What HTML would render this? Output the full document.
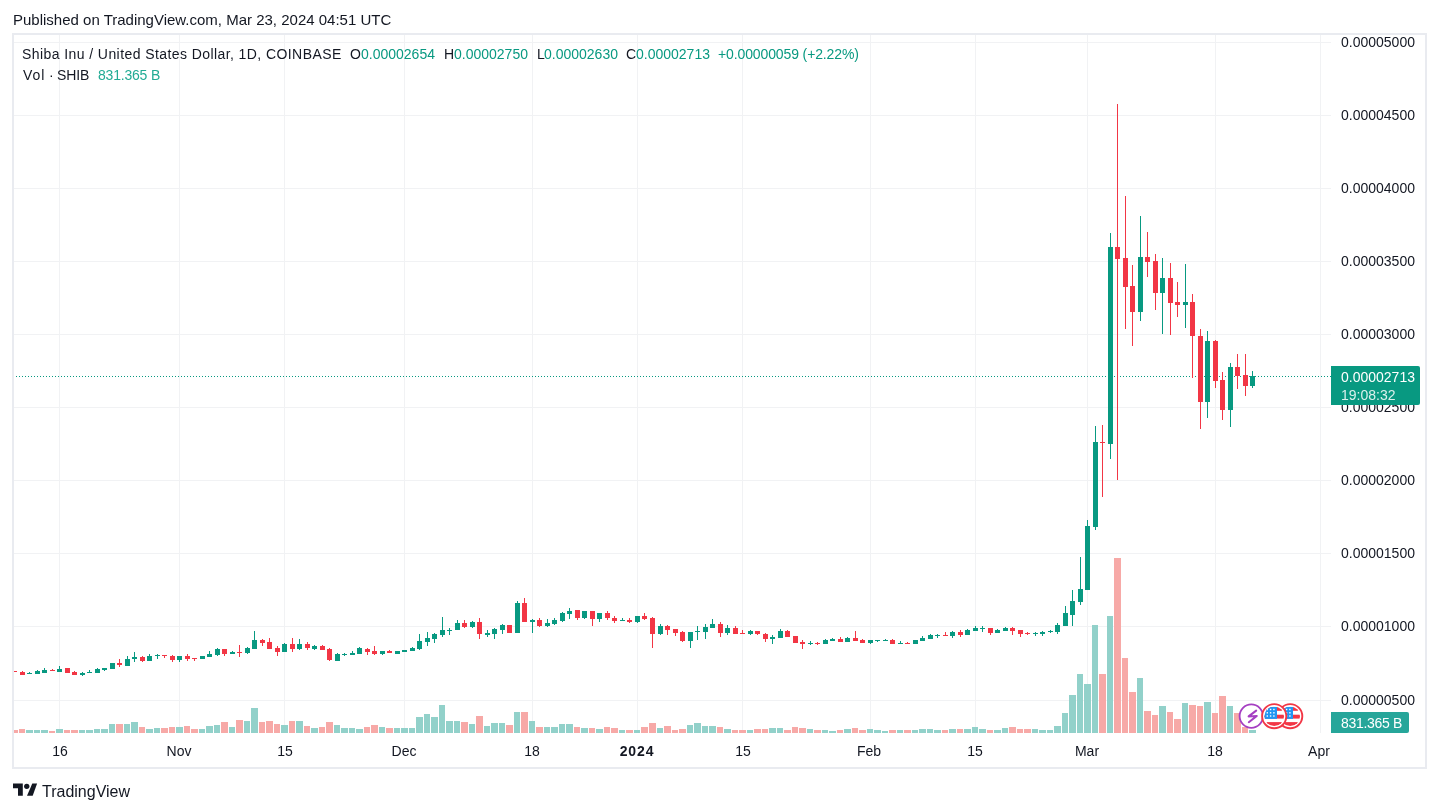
<!DOCTYPE html>
<html><head><meta charset="utf-8">
<style>
html,body{margin:0;padding:0;background:#fff;}
body{width:1439px;height:812px;position:relative;overflow:hidden;font-family:"Liberation Sans",sans-serif;color:#131722;}
.abs{position:absolute;white-space:nowrap;will-change:transform;}
#frame{position:absolute;left:12px;top:33px;width:1411px;height:732px;border:2px solid #e9ebf0;}
svg{position:absolute;left:0;top:0;}
.pl{position:absolute;will-change:transform;left:1341px;font-size:14px;line-height:17px;color:#131722;white-space:nowrap;}
.tl{position:absolute;will-change:transform;top:743px;width:80px;text-align:center;font-size:14px;line-height:17px;color:#131722;}
.tl.b{font-weight:bold;letter-spacing:0.9px;}
.pub{left:13px;top:11px;font-size:15px;line-height:18px;}
.leg{font-size:14px;line-height:17px;}
.gv{color:#089981;}
</style></head><body>
<div class="abs pub">Published on TradingView.com, Mar 23, 2024 04:51 UTC</div>
<div id="frame"></div>
<svg width="1439" height="812" shape-rendering="crispEdges">
<rect x="14" y="42" width="1317" height="1" fill="#f1f2f4"/>
<rect x="14" y="115" width="1317" height="1" fill="#f1f2f4"/>
<rect x="14" y="188" width="1317" height="1" fill="#f1f2f4"/>
<rect x="14" y="261" width="1317" height="1" fill="#f1f2f4"/>
<rect x="14" y="334" width="1317" height="1" fill="#f1f2f4"/>
<rect x="14" y="407" width="1317" height="1" fill="#f1f2f4"/>
<rect x="14" y="480" width="1317" height="1" fill="#f1f2f4"/>
<rect x="14" y="553" width="1317" height="1" fill="#f1f2f4"/>
<rect x="14" y="626" width="1317" height="1" fill="#f1f2f4"/>
<rect x="14" y="700" width="1317" height="1" fill="#f1f2f4"/>
<rect x="59" y="35" width="1" height="698" fill="#f1f2f4"/>
<rect x="179" y="35" width="1" height="698" fill="#f1f2f4"/>
<rect x="284" y="35" width="1" height="698" fill="#f1f2f4"/>
<rect x="404" y="35" width="1" height="698" fill="#f1f2f4"/>
<rect x="532" y="35" width="1" height="698" fill="#f1f2f4"/>
<rect x="637" y="35" width="1" height="698" fill="#f1f2f4"/>
<rect x="742" y="35" width="1" height="698" fill="#f1f2f4"/>
<rect x="870" y="35" width="1" height="698" fill="#f1f2f4"/>
<rect x="975" y="35" width="1" height="698" fill="#f1f2f4"/>
<rect x="1087" y="35" width="1" height="698" fill="#f1f2f4"/>
<rect x="1215" y="35" width="1" height="698" fill="#f1f2f4"/>
<rect x="1320" y="35" width="1" height="698" fill="#f1f2f4"/>
<rect x="14" y="730" width="4" height="3" fill="#f7a9a7"/>
<rect x="19" y="729" width="6" height="4" fill="#f7a9a7"/>
<rect x="26" y="730" width="7" height="3" fill="#92d1ca"/>
<rect x="34" y="730" width="6" height="3" fill="#92d1ca"/>
<rect x="41" y="730" width="7" height="3" fill="#92d1ca"/>
<rect x="49" y="731" width="6" height="2" fill="#f7a9a7"/>
<rect x="56" y="729" width="7" height="4" fill="#92d1ca"/>
<rect x="64" y="730" width="6" height="3" fill="#f7a9a7"/>
<rect x="71" y="730" width="7" height="3" fill="#f7a9a7"/>
<rect x="79" y="730" width="6" height="3" fill="#92d1ca"/>
<rect x="86" y="730" width="7" height="3" fill="#92d1ca"/>
<rect x="94" y="729" width="6" height="4" fill="#92d1ca"/>
<rect x="101" y="729" width="7" height="4" fill="#92d1ca"/>
<rect x="109" y="724" width="6" height="9" fill="#92d1ca"/>
<rect x="116" y="724" width="7" height="9" fill="#f7a9a7"/>
<rect x="124" y="724" width="6" height="9" fill="#92d1ca"/>
<rect x="131" y="722" width="7" height="11" fill="#92d1ca"/>
<rect x="139" y="727" width="6" height="6" fill="#f7a9a7"/>
<rect x="146" y="729" width="7" height="4" fill="#92d1ca"/>
<rect x="154" y="728" width="6" height="5" fill="#92d1ca"/>
<rect x="161" y="728" width="7" height="5" fill="#f7a9a7"/>
<rect x="169" y="727" width="6" height="6" fill="#f7a9a7"/>
<rect x="176" y="727" width="7" height="6" fill="#92d1ca"/>
<rect x="184" y="726" width="6" height="7" fill="#f7a9a7"/>
<rect x="191" y="729" width="7" height="4" fill="#f7a9a7"/>
<rect x="199" y="729" width="6" height="4" fill="#92d1ca"/>
<rect x="206" y="726" width="7" height="7" fill="#92d1ca"/>
<rect x="214" y="725" width="6" height="8" fill="#92d1ca"/>
<rect x="221" y="722" width="7" height="11" fill="#f7a9a7"/>
<rect x="229" y="727" width="6" height="6" fill="#92d1ca"/>
<rect x="236" y="720" width="7" height="13" fill="#f7a9a7"/>
<rect x="244" y="721" width="6" height="12" fill="#92d1ca"/>
<rect x="251" y="708" width="7" height="25" fill="#92d1ca"/>
<rect x="259" y="722" width="6" height="11" fill="#f7a9a7"/>
<rect x="266" y="721" width="7" height="12" fill="#f7a9a7"/>
<rect x="274" y="724" width="6" height="9" fill="#f7a9a7"/>
<rect x="281" y="725" width="7" height="8" fill="#92d1ca"/>
<rect x="289" y="721" width="6" height="12" fill="#f7a9a7"/>
<rect x="296" y="721" width="7" height="12" fill="#92d1ca"/>
<rect x="304" y="726" width="6" height="7" fill="#f7a9a7"/>
<rect x="311" y="728" width="7" height="5" fill="#92d1ca"/>
<rect x="319" y="727" width="6" height="6" fill="#f7a9a7"/>
<rect x="326" y="722" width="7" height="11" fill="#f7a9a7"/>
<rect x="334" y="725" width="6" height="8" fill="#92d1ca"/>
<rect x="341" y="728" width="7" height="5" fill="#92d1ca"/>
<rect x="349" y="728" width="6" height="5" fill="#92d1ca"/>
<rect x="356" y="729" width="7" height="4" fill="#92d1ca"/>
<rect x="364" y="727" width="6" height="6" fill="#f7a9a7"/>
<rect x="371" y="725" width="7" height="8" fill="#f7a9a7"/>
<rect x="379" y="727" width="6" height="6" fill="#92d1ca"/>
<rect x="386" y="728" width="7" height="5" fill="#f7a9a7"/>
<rect x="394" y="728" width="6" height="5" fill="#92d1ca"/>
<rect x="401" y="728" width="7" height="5" fill="#92d1ca"/>
<rect x="409" y="728" width="6" height="5" fill="#92d1ca"/>
<rect x="416" y="717" width="7" height="16" fill="#92d1ca"/>
<rect x="424" y="714" width="6" height="19" fill="#92d1ca"/>
<rect x="431" y="717" width="7" height="16" fill="#92d1ca"/>
<rect x="439" y="705" width="6" height="28" fill="#92d1ca"/>
<rect x="446" y="721" width="7" height="12" fill="#92d1ca"/>
<rect x="454" y="721" width="6" height="12" fill="#92d1ca"/>
<rect x="461" y="722" width="7" height="11" fill="#f7a9a7"/>
<rect x="469" y="724" width="6" height="9" fill="#92d1ca"/>
<rect x="476" y="716" width="7" height="17" fill="#f7a9a7"/>
<rect x="484" y="726" width="6" height="7" fill="#92d1ca"/>
<rect x="491" y="723" width="7" height="10" fill="#92d1ca"/>
<rect x="499" y="723" width="6" height="10" fill="#92d1ca"/>
<rect x="506" y="725" width="7" height="8" fill="#f7a9a7"/>
<rect x="514" y="712" width="6" height="21" fill="#92d1ca"/>
<rect x="521" y="712" width="7" height="21" fill="#f7a9a7"/>
<rect x="529" y="721" width="6" height="12" fill="#92d1ca"/>
<rect x="536" y="727" width="7" height="6" fill="#f7a9a7"/>
<rect x="544" y="727" width="6" height="6" fill="#92d1ca"/>
<rect x="551" y="727" width="7" height="6" fill="#92d1ca"/>
<rect x="559" y="724" width="6" height="9" fill="#92d1ca"/>
<rect x="566" y="724" width="7" height="9" fill="#92d1ca"/>
<rect x="574" y="727" width="6" height="6" fill="#f7a9a7"/>
<rect x="581" y="728" width="7" height="5" fill="#92d1ca"/>
<rect x="589" y="728" width="6" height="5" fill="#f7a9a7"/>
<rect x="596" y="729" width="7" height="4" fill="#92d1ca"/>
<rect x="604" y="727" width="6" height="6" fill="#f7a9a7"/>
<rect x="611" y="728" width="7" height="5" fill="#f7a9a7"/>
<rect x="619" y="730" width="6" height="3" fill="#92d1ca"/>
<rect x="626" y="730" width="7" height="3" fill="#f7a9a7"/>
<rect x="634" y="730" width="6" height="3" fill="#92d1ca"/>
<rect x="641" y="727" width="7" height="6" fill="#f7a9a7"/>
<rect x="649" y="723" width="7" height="10" fill="#f7a9a7"/>
<rect x="657" y="728" width="6" height="5" fill="#92d1ca"/>
<rect x="664" y="726" width="7" height="7" fill="#f7a9a7"/>
<rect x="672" y="730" width="6" height="3" fill="#f7a9a7"/>
<rect x="679" y="729" width="7" height="4" fill="#f7a9a7"/>
<rect x="687" y="725" width="6" height="8" fill="#92d1ca"/>
<rect x="694" y="723" width="7" height="10" fill="#92d1ca"/>
<rect x="702" y="726" width="6" height="7" fill="#92d1ca"/>
<rect x="709" y="726" width="7" height="7" fill="#92d1ca"/>
<rect x="717" y="727" width="6" height="6" fill="#f7a9a7"/>
<rect x="724" y="729" width="7" height="4" fill="#92d1ca"/>
<rect x="732" y="730" width="6" height="3" fill="#f7a9a7"/>
<rect x="739" y="730" width="7" height="3" fill="#f7a9a7"/>
<rect x="747" y="730" width="6" height="3" fill="#92d1ca"/>
<rect x="754" y="729" width="7" height="4" fill="#f7a9a7"/>
<rect x="762" y="729" width="6" height="4" fill="#f7a9a7"/>
<rect x="769" y="728" width="7" height="5" fill="#92d1ca"/>
<rect x="777" y="728" width="6" height="5" fill="#92d1ca"/>
<rect x="784" y="730" width="7" height="3" fill="#f7a9a7"/>
<rect x="792" y="727" width="6" height="6" fill="#f7a9a7"/>
<rect x="799" y="728" width="7" height="5" fill="#f7a9a7"/>
<rect x="807" y="729" width="6" height="4" fill="#92d1ca"/>
<rect x="814" y="730" width="7" height="3" fill="#f7a9a7"/>
<rect x="822" y="730" width="6" height="3" fill="#92d1ca"/>
<rect x="829" y="731" width="7" height="2" fill="#92d1ca"/>
<rect x="837" y="730" width="6" height="3" fill="#f7a9a7"/>
<rect x="844" y="729" width="7" height="4" fill="#92d1ca"/>
<rect x="852" y="728" width="6" height="5" fill="#f7a9a7"/>
<rect x="859" y="730" width="7" height="3" fill="#f7a9a7"/>
<rect x="867" y="729" width="6" height="4" fill="#92d1ca"/>
<rect x="874" y="730" width="7" height="3" fill="#92d1ca"/>
<rect x="882" y="731" width="6" height="2" fill="#92d1ca"/>
<rect x="889" y="730" width="7" height="3" fill="#f7a9a7"/>
<rect x="897" y="730" width="6" height="3" fill="#92d1ca"/>
<rect x="904" y="730" width="7" height="3" fill="#f7a9a7"/>
<rect x="912" y="730" width="6" height="3" fill="#92d1ca"/>
<rect x="919" y="729" width="7" height="4" fill="#92d1ca"/>
<rect x="927" y="729" width="6" height="4" fill="#92d1ca"/>
<rect x="934" y="730" width="7" height="3" fill="#92d1ca"/>
<rect x="942" y="730" width="6" height="3" fill="#f7a9a7"/>
<rect x="949" y="729" width="7" height="4" fill="#92d1ca"/>
<rect x="957" y="729" width="6" height="4" fill="#f7a9a7"/>
<rect x="964" y="729" width="7" height="4" fill="#92d1ca"/>
<rect x="972" y="727" width="6" height="6" fill="#92d1ca"/>
<rect x="979" y="729" width="7" height="4" fill="#92d1ca"/>
<rect x="987" y="730" width="6" height="3" fill="#f7a9a7"/>
<rect x="994" y="730" width="7" height="3" fill="#92d1ca"/>
<rect x="1002" y="728" width="6" height="5" fill="#92d1ca"/>
<rect x="1009" y="727" width="7" height="6" fill="#f7a9a7"/>
<rect x="1017" y="729" width="6" height="4" fill="#f7a9a7"/>
<rect x="1024" y="729" width="7" height="4" fill="#f7a9a7"/>
<rect x="1032" y="729" width="6" height="4" fill="#92d1ca"/>
<rect x="1039" y="730" width="7" height="3" fill="#92d1ca"/>
<rect x="1047" y="730" width="6" height="3" fill="#92d1ca"/>
<rect x="1054" y="726" width="7" height="7" fill="#92d1ca"/>
<rect x="1062" y="713" width="6" height="20" fill="#92d1ca"/>
<rect x="1069" y="695" width="7" height="38" fill="#92d1ca"/>
<rect x="1077" y="674" width="6" height="59" fill="#92d1ca"/>
<rect x="1084" y="684" width="7" height="49" fill="#92d1ca"/>
<rect x="1092" y="625" width="6" height="108" fill="#92d1ca"/>
<rect x="1099" y="674" width="7" height="59" fill="#f7a9a7"/>
<rect x="1107" y="616" width="6" height="117" fill="#92d1ca"/>
<rect x="1114" y="558" width="7" height="175" fill="#f7a9a7"/>
<rect x="1122" y="658" width="6" height="75" fill="#f7a9a7"/>
<rect x="1129" y="692" width="7" height="41" fill="#f7a9a7"/>
<rect x="1137" y="678" width="6" height="55" fill="#92d1ca"/>
<rect x="1144" y="711" width="7" height="22" fill="#f7a9a7"/>
<rect x="1152" y="715" width="6" height="18" fill="#f7a9a7"/>
<rect x="1159" y="706" width="7" height="27" fill="#92d1ca"/>
<rect x="1167" y="712" width="6" height="21" fill="#f7a9a7"/>
<rect x="1174" y="719" width="7" height="14" fill="#f7a9a7"/>
<rect x="1182" y="703" width="6" height="30" fill="#92d1ca"/>
<rect x="1189" y="705" width="7" height="28" fill="#f7a9a7"/>
<rect x="1197" y="706" width="6" height="27" fill="#f7a9a7"/>
<rect x="1204" y="702" width="7" height="31" fill="#92d1ca"/>
<rect x="1212" y="713" width="6" height="20" fill="#f7a9a7"/>
<rect x="1219" y="696" width="7" height="37" fill="#f7a9a7"/>
<rect x="1227" y="706" width="6" height="27" fill="#92d1ca"/>
<rect x="1234" y="713" width="7" height="20" fill="#f7a9a7"/>
<rect x="1242" y="727" width="6" height="6" fill="#f7a9a7"/>
<rect x="1249" y="730" width="7" height="3" fill="#92d1ca"/>
<line x1="14" y1="376.5" x2="1331" y2="376.5" stroke="#089981" stroke-width="1" stroke-dasharray="1 2" stroke-dashoffset="-2"/>
<rect x="14" y="671" width="1" height="1" fill="#f23645"/>
<rect x="14" y="671" width="3" height="1" fill="#f23645"/>
<rect x="22" y="671" width="1" height="4" fill="#f23645"/>
<rect x="20" y="672" width="5" height="3" fill="#f23645"/>
<rect x="29" y="672" width="1" height="2" fill="#089981"/>
<rect x="27" y="673" width="5" height="1" fill="#089981"/>
<rect x="37" y="670" width="1" height="4" fill="#089981"/>
<rect x="35" y="671" width="5" height="3" fill="#089981"/>
<rect x="44" y="668" width="1" height="5" fill="#089981"/>
<rect x="42" y="670" width="5" height="3" fill="#089981"/>
<rect x="52" y="669" width="1" height="2" fill="#f23645"/>
<rect x="50" y="670" width="5" height="1" fill="#f23645"/>
<rect x="59" y="666" width="1" height="6" fill="#089981"/>
<rect x="57" y="669" width="5" height="3" fill="#089981"/>
<rect x="67" y="668" width="1" height="5" fill="#f23645"/>
<rect x="65" y="668" width="5" height="5" fill="#f23645"/>
<rect x="74" y="671" width="1" height="4" fill="#f23645"/>
<rect x="72" y="672" width="5" height="3" fill="#f23645"/>
<rect x="82" y="672" width="1" height="4" fill="#089981"/>
<rect x="80" y="673" width="5" height="2" fill="#089981"/>
<rect x="89" y="670" width="1" height="3" fill="#089981"/>
<rect x="87" y="672" width="5" height="1" fill="#089981"/>
<rect x="97" y="668" width="1" height="5" fill="#089981"/>
<rect x="95" y="669" width="5" height="4" fill="#089981"/>
<rect x="104" y="668" width="1" height="3" fill="#089981"/>
<rect x="102" y="668" width="5" height="2" fill="#089981"/>
<rect x="112" y="663" width="1" height="6" fill="#089981"/>
<rect x="110" y="663" width="5" height="6" fill="#089981"/>
<rect x="119" y="659" width="1" height="8" fill="#f23645"/>
<rect x="117" y="663" width="5" height="2" fill="#f23645"/>
<rect x="127" y="656" width="1" height="10" fill="#089981"/>
<rect x="125" y="659" width="5" height="7" fill="#089981"/>
<rect x="134" y="652" width="1" height="10" fill="#089981"/>
<rect x="132" y="657" width="5" height="2" fill="#089981"/>
<rect x="142" y="656" width="1" height="6" fill="#f23645"/>
<rect x="140" y="657" width="5" height="4" fill="#f23645"/>
<rect x="149" y="654" width="1" height="7" fill="#089981"/>
<rect x="147" y="656" width="5" height="5" fill="#089981"/>
<rect x="157" y="654" width="1" height="5" fill="#089981"/>
<rect x="155" y="655" width="5" height="1" fill="#089981"/>
<rect x="164" y="655" width="1" height="3" fill="#f23645"/>
<rect x="162" y="655" width="5" height="1" fill="#f23645"/>
<rect x="172" y="655" width="1" height="7" fill="#f23645"/>
<rect x="170" y="656" width="5" height="4" fill="#f23645"/>
<rect x="179" y="656" width="1" height="6" fill="#089981"/>
<rect x="177" y="656" width="5" height="4" fill="#089981"/>
<rect x="187" y="654" width="1" height="7" fill="#f23645"/>
<rect x="185" y="656" width="5" height="3" fill="#f23645"/>
<rect x="194" y="658" width="1" height="3" fill="#f23645"/>
<rect x="192" y="658" width="5" height="1" fill="#f23645"/>
<rect x="202" y="656" width="1" height="3" fill="#089981"/>
<rect x="200" y="656" width="5" height="3" fill="#089981"/>
<rect x="209" y="651" width="1" height="6" fill="#089981"/>
<rect x="207" y="654" width="5" height="3" fill="#089981"/>
<rect x="217" y="648" width="1" height="8" fill="#089981"/>
<rect x="215" y="649" width="5" height="6" fill="#089981"/>
<rect x="224" y="649" width="1" height="7" fill="#f23645"/>
<rect x="222" y="649" width="5" height="5" fill="#f23645"/>
<rect x="232" y="651" width="1" height="3" fill="#089981"/>
<rect x="230" y="652" width="5" height="2" fill="#089981"/>
<rect x="239" y="645" width="1" height="12" fill="#f23645"/>
<rect x="237" y="652" width="5" height="1" fill="#f23645"/>
<rect x="247" y="647" width="1" height="7" fill="#089981"/>
<rect x="245" y="648" width="5" height="5" fill="#089981"/>
<rect x="254" y="631" width="1" height="18" fill="#089981"/>
<rect x="252" y="640" width="5" height="9" fill="#089981"/>
<rect x="262" y="639" width="1" height="7" fill="#f23645"/>
<rect x="260" y="640" width="5" height="3" fill="#f23645"/>
<rect x="269" y="638" width="1" height="11" fill="#f23645"/>
<rect x="267" y="642" width="5" height="7" fill="#f23645"/>
<rect x="277" y="646" width="1" height="10" fill="#f23645"/>
<rect x="275" y="648" width="5" height="4" fill="#f23645"/>
<rect x="284" y="643" width="1" height="9" fill="#089981"/>
<rect x="282" y="644" width="5" height="8" fill="#089981"/>
<rect x="292" y="638" width="1" height="14" fill="#f23645"/>
<rect x="290" y="644" width="5" height="5" fill="#f23645"/>
<rect x="299" y="639" width="1" height="11" fill="#089981"/>
<rect x="297" y="644" width="5" height="5" fill="#089981"/>
<rect x="307" y="642" width="1" height="8" fill="#f23645"/>
<rect x="305" y="644" width="5" height="4" fill="#f23645"/>
<rect x="314" y="645" width="1" height="5" fill="#089981"/>
<rect x="312" y="646" width="5" height="3" fill="#089981"/>
<rect x="322" y="645" width="1" height="5" fill="#f23645"/>
<rect x="320" y="646" width="5" height="4" fill="#f23645"/>
<rect x="329" y="648" width="1" height="13" fill="#f23645"/>
<rect x="327" y="649" width="5" height="11" fill="#f23645"/>
<rect x="337" y="653" width="1" height="8" fill="#089981"/>
<rect x="335" y="654" width="5" height="7" fill="#089981"/>
<rect x="344" y="653" width="1" height="3" fill="#089981"/>
<rect x="342" y="654" width="5" height="1" fill="#089981"/>
<rect x="352" y="651" width="1" height="4" fill="#089981"/>
<rect x="350" y="653" width="5" height="2" fill="#089981"/>
<rect x="359" y="647" width="1" height="7" fill="#089981"/>
<rect x="357" y="648" width="5" height="6" fill="#089981"/>
<rect x="367" y="648" width="1" height="7" fill="#f23645"/>
<rect x="365" y="649" width="5" height="3" fill="#f23645"/>
<rect x="374" y="646" width="1" height="9" fill="#f23645"/>
<rect x="372" y="651" width="5" height="3" fill="#f23645"/>
<rect x="382" y="651" width="1" height="4" fill="#089981"/>
<rect x="380" y="651" width="5" height="3" fill="#089981"/>
<rect x="389" y="650" width="1" height="3" fill="#f23645"/>
<rect x="387" y="651" width="5" height="2" fill="#f23645"/>
<rect x="397" y="651" width="1" height="3" fill="#089981"/>
<rect x="395" y="651" width="5" height="3" fill="#089981"/>
<rect x="404" y="650" width="1" height="2" fill="#089981"/>
<rect x="402" y="650" width="5" height="2" fill="#089981"/>
<rect x="412" y="647" width="1" height="4" fill="#089981"/>
<rect x="410" y="648" width="5" height="3" fill="#089981"/>
<rect x="419" y="634" width="1" height="16" fill="#089981"/>
<rect x="417" y="641" width="5" height="8" fill="#089981"/>
<rect x="427" y="632" width="1" height="14" fill="#089981"/>
<rect x="425" y="638" width="5" height="4" fill="#089981"/>
<rect x="434" y="633" width="1" height="10" fill="#089981"/>
<rect x="432" y="634" width="5" height="5" fill="#089981"/>
<rect x="442" y="617" width="1" height="20" fill="#089981"/>
<rect x="440" y="630" width="5" height="5" fill="#089981"/>
<rect x="449" y="628" width="1" height="7" fill="#089981"/>
<rect x="447" y="630" width="5" height="1" fill="#089981"/>
<rect x="457" y="620" width="1" height="10" fill="#089981"/>
<rect x="455" y="623" width="5" height="7" fill="#089981"/>
<rect x="464" y="620" width="1" height="8" fill="#f23645"/>
<rect x="462" y="623" width="5" height="4" fill="#f23645"/>
<rect x="472" y="621" width="1" height="7" fill="#089981"/>
<rect x="470" y="622" width="5" height="5" fill="#089981"/>
<rect x="479" y="618" width="1" height="21" fill="#f23645"/>
<rect x="477" y="622" width="5" height="12" fill="#f23645"/>
<rect x="487" y="630" width="1" height="7" fill="#089981"/>
<rect x="485" y="633" width="5" height="2" fill="#089981"/>
<rect x="494" y="628" width="1" height="11" fill="#089981"/>
<rect x="492" y="629" width="5" height="5" fill="#089981"/>
<rect x="502" y="624" width="1" height="10" fill="#089981"/>
<rect x="500" y="625" width="5" height="5" fill="#089981"/>
<rect x="509" y="625" width="1" height="8" fill="#f23645"/>
<rect x="507" y="625" width="5" height="8" fill="#f23645"/>
<rect x="517" y="601" width="1" height="32" fill="#089981"/>
<rect x="515" y="603" width="5" height="30" fill="#089981"/>
<rect x="524" y="598" width="1" height="24" fill="#f23645"/>
<rect x="522" y="603" width="5" height="19" fill="#f23645"/>
<rect x="532" y="619" width="1" height="14" fill="#089981"/>
<rect x="530" y="620" width="5" height="2" fill="#089981"/>
<rect x="539" y="618" width="1" height="9" fill="#f23645"/>
<rect x="537" y="620" width="5" height="6" fill="#f23645"/>
<rect x="547" y="619" width="1" height="8" fill="#089981"/>
<rect x="545" y="623" width="5" height="3" fill="#089981"/>
<rect x="554" y="618" width="1" height="7" fill="#089981"/>
<rect x="552" y="620" width="5" height="4" fill="#089981"/>
<rect x="562" y="612" width="1" height="10" fill="#089981"/>
<rect x="560" y="613" width="5" height="8" fill="#089981"/>
<rect x="569" y="608" width="1" height="11" fill="#089981"/>
<rect x="567" y="611" width="5" height="3" fill="#089981"/>
<rect x="577" y="610" width="1" height="10" fill="#f23645"/>
<rect x="575" y="610" width="5" height="8" fill="#f23645"/>
<rect x="584" y="611" width="1" height="8" fill="#089981"/>
<rect x="582" y="611" width="5" height="7" fill="#089981"/>
<rect x="592" y="611" width="1" height="15" fill="#f23645"/>
<rect x="590" y="611" width="5" height="8" fill="#f23645"/>
<rect x="599" y="613" width="1" height="9" fill="#089981"/>
<rect x="597" y="613" width="5" height="6" fill="#089981"/>
<rect x="607" y="611" width="1" height="9" fill="#f23645"/>
<rect x="605" y="613" width="5" height="5" fill="#f23645"/>
<rect x="614" y="616" width="1" height="7" fill="#f23645"/>
<rect x="612" y="618" width="5" height="3" fill="#f23645"/>
<rect x="622" y="618" width="1" height="3" fill="#089981"/>
<rect x="620" y="620" width="5" height="1" fill="#089981"/>
<rect x="629" y="618" width="1" height="5" fill="#f23645"/>
<rect x="627" y="620" width="5" height="2" fill="#f23645"/>
<rect x="637" y="616" width="1" height="7" fill="#089981"/>
<rect x="635" y="616" width="5" height="6" fill="#089981"/>
<rect x="644" y="613" width="1" height="7" fill="#f23645"/>
<rect x="642" y="616" width="5" height="3" fill="#f23645"/>
<rect x="652" y="617" width="1" height="31" fill="#f23645"/>
<rect x="650" y="618" width="5" height="16" fill="#f23645"/>
<rect x="660" y="624" width="1" height="11" fill="#089981"/>
<rect x="658" y="626" width="5" height="8" fill="#089981"/>
<rect x="667" y="625" width="1" height="10" fill="#f23645"/>
<rect x="665" y="626" width="5" height="4" fill="#f23645"/>
<rect x="675" y="629" width="1" height="7" fill="#f23645"/>
<rect x="673" y="629" width="5" height="4" fill="#f23645"/>
<rect x="682" y="631" width="1" height="11" fill="#f23645"/>
<rect x="680" y="632" width="5" height="9" fill="#f23645"/>
<rect x="690" y="632" width="1" height="16" fill="#089981"/>
<rect x="688" y="632" width="5" height="9" fill="#089981"/>
<rect x="697" y="626" width="1" height="14" fill="#089981"/>
<rect x="695" y="631" width="5" height="1" fill="#089981"/>
<rect x="705" y="624" width="1" height="15" fill="#089981"/>
<rect x="703" y="627" width="5" height="5" fill="#089981"/>
<rect x="712" y="619" width="1" height="9" fill="#089981"/>
<rect x="710" y="624" width="5" height="4" fill="#089981"/>
<rect x="720" y="622" width="1" height="15" fill="#f23645"/>
<rect x="718" y="624" width="5" height="9" fill="#f23645"/>
<rect x="727" y="625" width="1" height="10" fill="#089981"/>
<rect x="725" y="628" width="5" height="5" fill="#089981"/>
<rect x="735" y="626" width="1" height="8" fill="#f23645"/>
<rect x="733" y="628" width="5" height="6" fill="#f23645"/>
<rect x="742" y="630" width="1" height="4" fill="#f23645"/>
<rect x="740" y="633" width="5" height="1" fill="#f23645"/>
<rect x="750" y="630" width="1" height="5" fill="#089981"/>
<rect x="748" y="631" width="5" height="3" fill="#089981"/>
<rect x="757" y="631" width="1" height="4" fill="#f23645"/>
<rect x="755" y="631" width="5" height="3" fill="#f23645"/>
<rect x="765" y="633" width="1" height="9" fill="#f23645"/>
<rect x="763" y="634" width="5" height="5" fill="#f23645"/>
<rect x="772" y="635" width="1" height="9" fill="#089981"/>
<rect x="770" y="637" width="5" height="2" fill="#089981"/>
<rect x="780" y="629" width="1" height="9" fill="#089981"/>
<rect x="778" y="631" width="5" height="7" fill="#089981"/>
<rect x="787" y="630" width="1" height="7" fill="#f23645"/>
<rect x="785" y="631" width="5" height="6" fill="#f23645"/>
<rect x="795" y="636" width="1" height="7" fill="#f23645"/>
<rect x="793" y="636" width="5" height="7" fill="#f23645"/>
<rect x="802" y="640" width="1" height="9" fill="#f23645"/>
<rect x="800" y="642" width="5" height="2" fill="#f23645"/>
<rect x="810" y="641" width="1" height="4" fill="#089981"/>
<rect x="808" y="643" width="5" height="1" fill="#089981"/>
<rect x="817" y="642" width="1" height="3" fill="#f23645"/>
<rect x="815" y="643" width="5" height="1" fill="#f23645"/>
<rect x="825" y="639" width="1" height="5" fill="#089981"/>
<rect x="823" y="640" width="5" height="4" fill="#089981"/>
<rect x="832" y="638" width="1" height="3" fill="#089981"/>
<rect x="830" y="639" width="5" height="2" fill="#089981"/>
<rect x="840" y="637" width="1" height="5" fill="#f23645"/>
<rect x="838" y="639" width="5" height="3" fill="#f23645"/>
<rect x="847" y="637" width="1" height="5" fill="#089981"/>
<rect x="845" y="638" width="5" height="4" fill="#089981"/>
<rect x="855" y="631" width="1" height="10" fill="#f23645"/>
<rect x="853" y="638" width="5" height="3" fill="#f23645"/>
<rect x="862" y="639" width="1" height="4" fill="#f23645"/>
<rect x="860" y="640" width="5" height="3" fill="#f23645"/>
<rect x="870" y="640" width="1" height="4" fill="#089981"/>
<rect x="868" y="640" width="5" height="3" fill="#089981"/>
<rect x="877" y="640" width="1" height="2" fill="#089981"/>
<rect x="875" y="640" width="5" height="1" fill="#089981"/>
<rect x="885" y="639" width="1" height="2" fill="#089981"/>
<rect x="883" y="640" width="5" height="1" fill="#089981"/>
<rect x="892" y="639" width="1" height="5" fill="#f23645"/>
<rect x="890" y="640" width="5" height="4" fill="#f23645"/>
<rect x="900" y="641" width="1" height="3" fill="#089981"/>
<rect x="898" y="643" width="5" height="1" fill="#089981"/>
<rect x="907" y="642" width="1" height="2" fill="#f23645"/>
<rect x="905" y="643" width="5" height="1" fill="#f23645"/>
<rect x="915" y="640" width="1" height="4" fill="#089981"/>
<rect x="913" y="640" width="5" height="4" fill="#089981"/>
<rect x="922" y="636" width="1" height="5" fill="#089981"/>
<rect x="920" y="638" width="5" height="3" fill="#089981"/>
<rect x="930" y="634" width="1" height="5" fill="#089981"/>
<rect x="928" y="635" width="5" height="4" fill="#089981"/>
<rect x="937" y="634" width="1" height="4" fill="#089981"/>
<rect x="935" y="635" width="5" height="1" fill="#089981"/>
<rect x="945" y="632" width="1" height="4" fill="#f23645"/>
<rect x="943" y="635" width="5" height="1" fill="#f23645"/>
<rect x="952" y="631" width="1" height="7" fill="#089981"/>
<rect x="950" y="632" width="5" height="4" fill="#089981"/>
<rect x="960" y="630" width="1" height="7" fill="#f23645"/>
<rect x="958" y="632" width="5" height="3" fill="#f23645"/>
<rect x="967" y="629" width="1" height="6" fill="#089981"/>
<rect x="965" y="630" width="5" height="5" fill="#089981"/>
<rect x="975" y="626" width="1" height="5" fill="#089981"/>
<rect x="973" y="628" width="5" height="3" fill="#089981"/>
<rect x="982" y="626" width="1" height="6" fill="#089981"/>
<rect x="980" y="628" width="5" height="1" fill="#089981"/>
<rect x="990" y="628" width="1" height="7" fill="#f23645"/>
<rect x="988" y="628" width="5" height="5" fill="#f23645"/>
<rect x="997" y="629" width="1" height="4" fill="#089981"/>
<rect x="995" y="630" width="5" height="3" fill="#089981"/>
<rect x="1005" y="627" width="1" height="4" fill="#089981"/>
<rect x="1003" y="628" width="5" height="3" fill="#089981"/>
<rect x="1012" y="627" width="1" height="8" fill="#f23645"/>
<rect x="1010" y="628" width="5" height="3" fill="#f23645"/>
<rect x="1020" y="630" width="1" height="7" fill="#f23645"/>
<rect x="1018" y="630" width="5" height="4" fill="#f23645"/>
<rect x="1027" y="632" width="1" height="3" fill="#f23645"/>
<rect x="1025" y="633" width="5" height="1" fill="#f23645"/>
<rect x="1035" y="632" width="1" height="4" fill="#089981"/>
<rect x="1033" y="633" width="5" height="1" fill="#089981"/>
<rect x="1042" y="631" width="1" height="5" fill="#089981"/>
<rect x="1040" y="632" width="5" height="2" fill="#089981"/>
<rect x="1050" y="630" width="1" height="3" fill="#089981"/>
<rect x="1048" y="631" width="5" height="1" fill="#089981"/>
<rect x="1057" y="623" width="1" height="11" fill="#089981"/>
<rect x="1055" y="625" width="5" height="7" fill="#089981"/>
<rect x="1065" y="606" width="1" height="20" fill="#089981"/>
<rect x="1063" y="613" width="5" height="13" fill="#089981"/>
<rect x="1072" y="590" width="1" height="36" fill="#089981"/>
<rect x="1070" y="601" width="5" height="14" fill="#089981"/>
<rect x="1080" y="557" width="1" height="48" fill="#089981"/>
<rect x="1078" y="589" width="5" height="13" fill="#089981"/>
<rect x="1087" y="520" width="1" height="70" fill="#089981"/>
<rect x="1085" y="526" width="5" height="64" fill="#089981"/>
<rect x="1095" y="426" width="1" height="104" fill="#089981"/>
<rect x="1093" y="442" width="5" height="85" fill="#089981"/>
<rect x="1102" y="425" width="1" height="72" fill="#f23645"/>
<rect x="1100" y="442" width="5" height="1" fill="#f23645"/>
<rect x="1110" y="233" width="1" height="226" fill="#089981"/>
<rect x="1108" y="247" width="5" height="197" fill="#089981"/>
<rect x="1117" y="104" width="1" height="376" fill="#f23645"/>
<rect x="1115" y="247" width="5" height="12" fill="#f23645"/>
<rect x="1125" y="196" width="1" height="133" fill="#f23645"/>
<rect x="1123" y="258" width="5" height="29" fill="#f23645"/>
<rect x="1132" y="265" width="1" height="81" fill="#f23645"/>
<rect x="1130" y="286" width="5" height="26" fill="#f23645"/>
<rect x="1140" y="216" width="1" height="105" fill="#089981"/>
<rect x="1138" y="257" width="5" height="55" fill="#089981"/>
<rect x="1147" y="232" width="1" height="45" fill="#f23645"/>
<rect x="1145" y="257" width="5" height="5" fill="#f23645"/>
<rect x="1155" y="254" width="1" height="56" fill="#f23645"/>
<rect x="1153" y="261" width="5" height="32" fill="#f23645"/>
<rect x="1162" y="258" width="1" height="76" fill="#089981"/>
<rect x="1160" y="278" width="5" height="15" fill="#089981"/>
<rect x="1170" y="263" width="1" height="72" fill="#f23645"/>
<rect x="1168" y="278" width="5" height="25" fill="#f23645"/>
<rect x="1177" y="282" width="1" height="35" fill="#f23645"/>
<rect x="1175" y="302" width="5" height="3" fill="#f23645"/>
<rect x="1185" y="264" width="1" height="64" fill="#089981"/>
<rect x="1183" y="302" width="5" height="3" fill="#089981"/>
<rect x="1192" y="294" width="1" height="84" fill="#f23645"/>
<rect x="1190" y="302" width="5" height="34" fill="#f23645"/>
<rect x="1200" y="329" width="1" height="100" fill="#f23645"/>
<rect x="1198" y="336" width="5" height="66" fill="#f23645"/>
<rect x="1207" y="331" width="1" height="87" fill="#089981"/>
<rect x="1205" y="341" width="5" height="61" fill="#089981"/>
<rect x="1215" y="340" width="1" height="48" fill="#f23645"/>
<rect x="1213" y="341" width="5" height="40" fill="#f23645"/>
<rect x="1222" y="372" width="1" height="48" fill="#f23645"/>
<rect x="1220" y="380" width="5" height="30" fill="#f23645"/>
<rect x="1230" y="363" width="1" height="64" fill="#089981"/>
<rect x="1228" y="367" width="5" height="43" fill="#089981"/>
<rect x="1237" y="354" width="1" height="35" fill="#f23645"/>
<rect x="1235" y="367" width="5" height="9" fill="#f23645"/>
<rect x="1245" y="354" width="1" height="42" fill="#f23645"/>
<rect x="1243" y="375" width="5" height="11" fill="#f23645"/>
<rect x="1252" y="371" width="1" height="17" fill="#089981"/>
<rect x="1250" y="376" width="5" height="10" fill="#089981"/>
</svg>
<div class="pl" style="top:34.0px">0.00005000</div>
<div class="pl" style="top:107.0px">0.00004500</div>
<div class="pl" style="top:180.0px">0.00004000</div>
<div class="pl" style="top:253.0px">0.00003500</div>
<div class="pl" style="top:326.0px">0.00003000</div>
<div class="pl" style="top:399.0px">0.00002500</div>
<div class="pl" style="top:472.0px">0.00002000</div>
<div class="pl" style="top:545.0px">0.00001500</div>
<div class="pl" style="top:618.0px">0.00001000</div>
<div class="pl" style="top:692.0px">0.00000500</div>
<div class="tl" style="left:19.6px">16</div>
<div class="tl" style="left:138.7px">Nov</div>
<div class="tl" style="left:244.8px">15</div>
<div class="tl" style="left:363.8px">Dec</div>
<div class="tl" style="left:492.4px">18</div>
<div class="tl b" style="left:596.5px">2024</div>
<div class="tl" style="left:702.6px">15</div>
<div class="tl" style="left:829.1px">Feb</div>
<div class="tl" style="left:935.2px">15</div>
<div class="tl" style="left:1046.8px">Mar</div>
<div class="tl" style="left:1175.4px">18</div>
<div class="tl" style="left:1279.4px">Apr</div>
<div class="abs leg" style="left:22px;top:46px;letter-spacing:0.42px">Shiba Inu / United States Dollar, 1D, COINBASE</div>
<div class="abs leg" style="left:350px;top:46px">O</div><div class="abs leg gv" style="left:361.3px;top:46px">0.00002654</div>
<div class="abs leg" style="left:443.8px;top:46px">H</div><div class="abs leg gv" style="left:453.5px;top:46px">0.00002750</div>
<div class="abs leg" style="left:536.5px;top:46px">L</div><div class="abs leg gv" style="left:543.9px;top:46px">0.00002630</div>
<div class="abs leg" style="left:626.2px;top:46px">C</div><div class="abs leg gv" style="left:635.6px;top:46px">0.00002713</div>
<div class="abs leg gv" style="left:717.6px;top:46px;letter-spacing:-0.12px">+0.00000059 (+2.22%)</div>
<div class="abs leg" style="left:23px;top:67px;letter-spacing:1px">Vol</div><div class="abs leg" style="left:48.5px;top:67px">·</div><div class="abs leg" style="left:57.3px;top:67px;letter-spacing:-0.1px">SHIB</div>
<div class="abs leg" style="left:97.6px;top:67px;color:#22ab94;letter-spacing:-0.2px">831.365 B</div>
<div class="abs" style="left:1331px;top:366px;width:89px;height:39px;background:#089981;border-radius:0 2px 2px 0"></div>
<div class="abs" style="left:1341px;top:369px;font-size:14px;line-height:17px;color:#fff">0.00002713</div>
<div class="abs" style="left:1341px;top:387px;font-size:14px;line-height:17px;color:rgba(255,255,255,0.85)">19:08:32</div>
<div class="abs" style="left:1331px;top:712px;width:78px;height:21px;background:#26a69a;border-radius:0 2px 2px 0"></div>
<div class="abs" style="left:1341px;top:715px;font-size:14px;line-height:17px;color:#fff;letter-spacing:-0.3px">831.365 B</div>
<svg class="abs" style="left:0;top:0" width="1439" height="812">
<defs>
<clipPath id="cf1"><circle cx="1274.2" cy="716.3" r="9.8"/></clipPath>
<clipPath id="cf2"><circle cx="1290.2" cy="716.3" r="9.8"/></clipPath>
<g id="flag">
<rect x="-10" y="-9.4" width="20" height="19.2" fill="#fff"/>
<rect x="-10" y="-9.4" width="20" height="3.9" fill="#f23645"/>
<rect x="-10" y="-1.6" width="20" height="3.9" fill="#f23645"/>
<rect x="-10" y="5.8" width="20" height="3.9" fill="#f23645"/>
<rect x="-10" y="-9.4" width="12.8" height="12" fill="#2196f3"/>
<g fill="#fff"><rect x="-7.6" y="-7.5" width="1.4" height="1.4"/><rect x="-4.3" y="-7.5" width="1.4" height="1.4"/><rect x="-1" y="-7.5" width="1.4" height="1.4"/>
<rect x="-7.6" y="-4.2" width="1.4" height="1.4"/><rect x="-4.3" y="-4.2" width="1.4" height="1.4"/><rect x="-1" y="-4.2" width="1.4" height="1.4"/>
<rect x="-7.6" y="-1" width="1.4" height="1.4"/><rect x="-4.3" y="-1" width="1.4" height="1.4"/><rect x="-1" y="-1" width="1.4" height="1.4"/></g>
</g>
</defs>
<circle cx="1251.3" cy="716.1" r="11.7" fill="#fff" stroke="#a53fc2" stroke-width="1.8"/>
<path d="M1256.2 710.6 L1248.6 716.4 L1256.8 715.9 L1248.8 722.2" fill="none" stroke="#a53fc2" stroke-width="2" stroke-linejoin="round" stroke-linecap="round"/>
<circle cx="1290.2" cy="716.2" r="12.1" fill="#fff" stroke="#f23645" stroke-width="1.9"/>
<g clip-path="url(#cf2)"><use href="#flag" x="1290.2" y="716.3"/></g>
<circle cx="1274.2" cy="716.2" r="12.1" fill="#fff" stroke="#f23645" stroke-width="1.9"/>
<g clip-path="url(#cf1)"><use href="#flag" x="1274.2" y="716.3"/></g>
</svg>
<svg class="abs" style="left:0;top:0" width="140" height="812">
<path d="M13 783.5 H22.8 V795.8 H18 V788.3 H13 Z" fill="#131722"/>
<circle cx="26.75" cy="786.3" r="2.65" fill="#131722"/>
<path d="M32.3 783.5 H37.1 L32.7 795.8 H27 Z" fill="#131722"/>
</svg>
<div class="abs" style="left:42px;top:783px;font-size:16px;line-height:18px;color:#131722">TradingView</div>
</body></html>
